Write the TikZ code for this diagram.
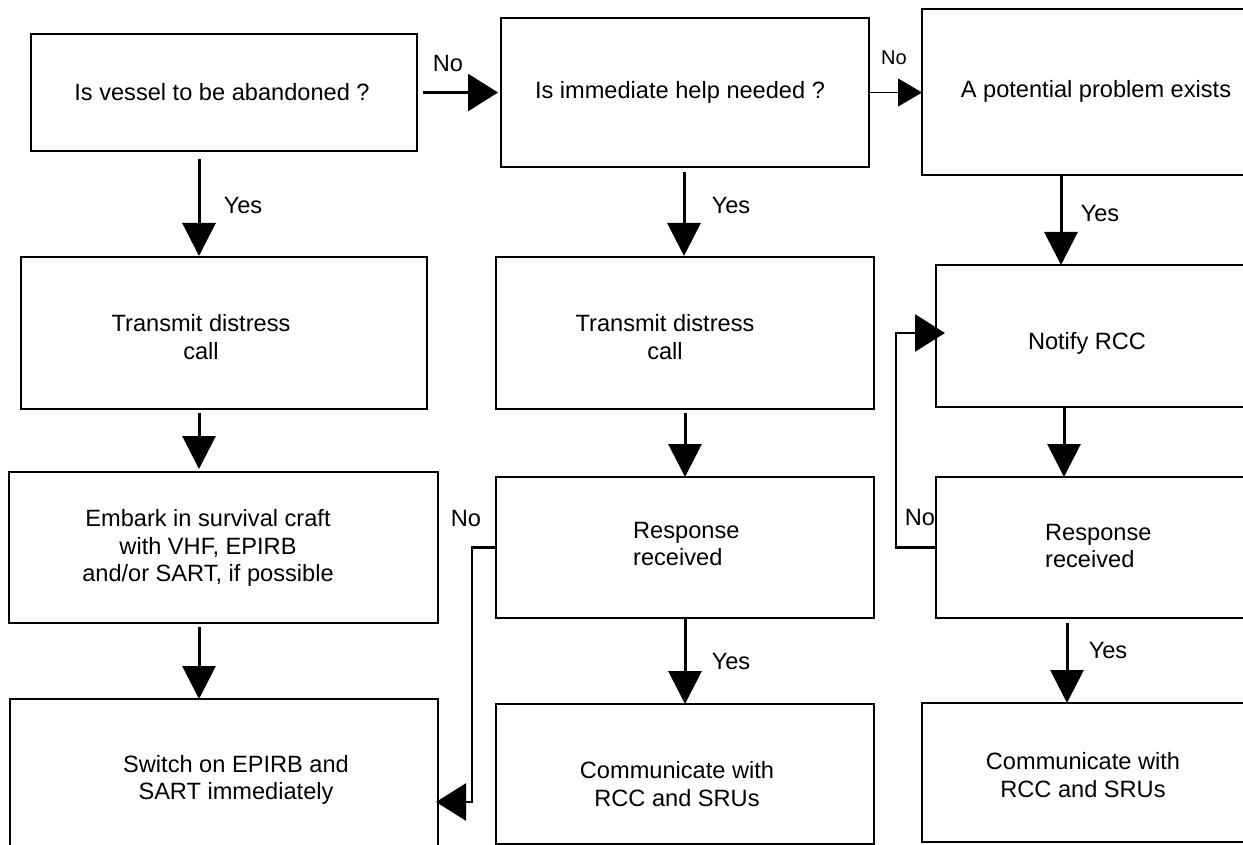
\documentclass[tikz,border=0pt]{standalone}
\usepackage{fontspec}
\setmainfont{Liberation Sans}
\usetikzlibrary{arrows.meta}
\tikzset{
  box/.style={draw, line width=2.4pt, inner sep=0pt, outer sep=0pt, anchor=north west},
  txt/.style={font=\fontsize{23.6}{27.5}\selectfont, inner sep=0pt, align=center},
  txtl/.style={font=\fontsize{23.6}{27.5}\selectfont, inner sep=0pt, align=left, anchor=west},
  lbl/.style={font=\fontsize{23.6}{27.5}\selectfont, inner sep=0pt},
  lbls/.style={font=\fontsize{20}{24}\selectfont, inner sep=0pt},
  arrV/.style={line width=3pt, -{Triangle[length=33pt,width=33pt]}},
  arrH/.style={line width=2.8pt, -{Triangle[length=30pt,width=37pt]}},
  arrT/.style={line width=1pt, -{Triangle[length=24pt,width=28pt]}}
}
\begin{document}
\begin{tikzpicture}[x=1pt,y=-1pt]
\useasboundingbox (0,0) rectangle (1243,845);
\clip (0,0) rectangle (1243,845);
% boxes
\node[box, minimum width=386pt, minimum height=117pt] (A) at (31,34) {};
\node[box, minimum width=368pt, minimum height=149pt] (B) at (501,18) {};
\node[box, minimum width=346pt, minimum height=166pt] (C) at (922,9) {};
\node[box, minimum width=406pt, minimum height=152pt] (T1) at (21,257) {};
\node[box, minimum width=378pt, minimum height=152pt] (T2) at (496,257) {};
\node[box, minimum width=323pt, minimum height=142pt] (N) at (936,265) {};
\node[box, minimum width=429pt, minimum height=151pt] (E) at (9,472) {};
\node[box, minimum width=378pt, minimum height=141pt] (R2) at (496,477) {};
\node[box, minimum width=323pt, minimum height=141pt] (R3) at (936,477) {};
\node[box, minimum width=428pt, minimum height=160pt] (S) at (10,699) {};
\node[box, minimum width=378pt, minimum height=140pt] (C2) at (496,704) {};
\node[box, minimum width=338pt, minimum height=139pt] (C3) at (922,703) {};
% texts
\node[txt] (tA) at (222,92) {Is vessel to be abandoned ?};
\node[txt] (tB) at (680,92) {Is immediate help needed ?};
\node[txt] (tC) at (1096,91) {A potential problem exists};
\node[txt] (tT1) at (201,337) {Transmit distress\\call};
\node[txt] (tT2) at (665,337) {Transmit distress\\call};
\node[txt] (tN) at (1087,343) {Notify RCC};
\node[txt] (tE) at (208,548) {Embark in survival craft\\with VHF, EPIRB\\and/or SART, if possible};
\node[txtl] (tR2) at (633,544) {Response\\received};
\node[txtl] (tR3) at (1045,546) {Response\\received};
\node[txt] (tS) at (236,780) {Switch on EPIRB and\\SART immediately};
\node[txt] (tC2) at (677,784) {Communicate with\\RCC and SRUs};
\node[txt] (tC3) at (1083,775) {Communicate with\\RCC and SRUs};
% connector x positions
\coordinate (x1) at (199,0);
\coordinate (x2) at (684,0);
\coordinate (x3) at (1061,0);
\coordinate (x4) at (685,0);
\coordinate (x5) at (1064,0);
\coordinate (x6) at (1067,0);
\coordinate (l1) at (472,802);
\coordinate (l2) at (896,333);
% connectors
\draw[arrH] ([xshift=6pt]A.east) -- ([xshift=-3pt]A.east -| B.west);
\draw[arrT] (B.east) -- (B.east -| C.west);
\draw[arrV] ([yshift=-8pt]A.south -| x1) -- ([yshift=1pt]T1.north -| x1);
\draw[arrV] ([yshift=-5pt]B.south -| x2) -- ([yshift=1pt]T2.north -| x2);
\draw[arrV] (C.south -| x3) -- (N.north -| x3);
\draw[arrV] ([yshift=-4pt]T1.south -| x1) -- ([yshift=3pt]E.north -| x1);
\draw[arrV] ([yshift=-4pt]T2.south -| x4) -- (R2.north -| x4);
\draw[arrV] (N.south -| x5) -- (R3.north -| x5);
\draw[arrV] ([yshift=-4pt]E.south -| x1) -- (S.north -| x1);
\draw[arrV] (R2.south -| x4) -- (C2.north -| x4);
\draw[arrV] ([yshift=-5pt]R3.south -| x6) -- (C3.north -| x6);
\draw[arrH] (R2.west) -- (R2.west -| l1) -- (l1) -- ([xshift=-2pt]l1 -| S.east);
\draw[arrH] (R3.west) -- (R3.west -| l2) -- (l2) -- ([xshift=9pt]l2 -| N.west);
% labels
\node[lbl] (nA) at (448,63) {No};
\node[lbls] (nB) at (894,58) {No};
\node[lbl] (yA) at (243,205) {Yes};
\node[lbl] (yB) at (731,205) {Yes};
\node[lbl] (yC) at (1100,213) {Yes};
\node[lbl] (nR2) at (466,518) {No};
\node[lbl] (yR2) at (731,661) {Yes};
\node[lbl] (nR3) at (920,517) {No};
\node[lbl] (yR3) at (1108,650) {Yes};
\end{tikzpicture}
\end{document}
